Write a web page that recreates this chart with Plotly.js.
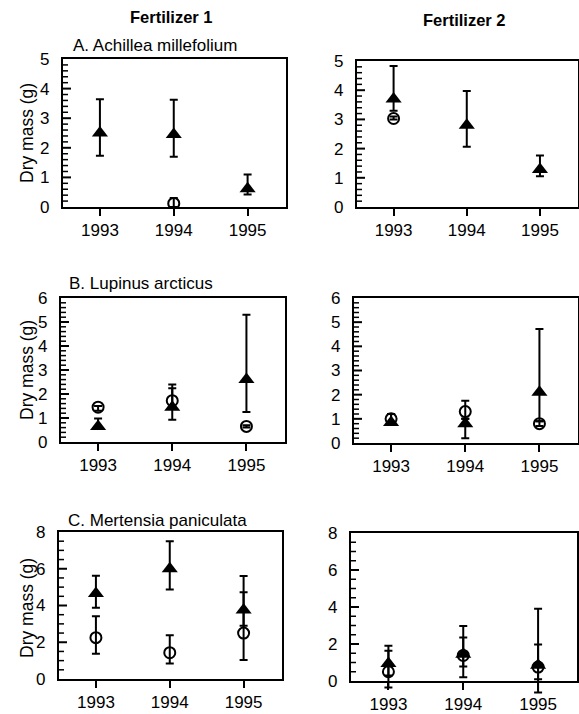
<!DOCTYPE html>
<html>
<head>
<meta charset="utf-8">
<script src="https://cdn.plot.ly/plotly-3.0.1.min.js"></script>
<style>html,body{margin:0;padding:0;background:#fff}#chart{width:579px;height:714px}</style>
</head>
<body>
<div id="chart"></div>
<script>
// ---------- DATA ----------
const years = [1993, 1994, 1995];
const columnTitles = ["Fertilizer 1", "Fertilizer 2"];
const panelTitles = ["A. Achillea millefolium", "B. Lupinus arcticus", "C. Mertensia paniculata"];
const yTitle = "Dry mass (g)";

// Panel A
const aF1Tri = [2.5, 2.45, 0.62], aF1TriHi = [3.64, 3.62, 1.1], aF1TriLo = [1.73, 1.7, 0.42];
const aF1Cir = [null, 0.12, null], aF1CirHi = [null, 0.3, null], aF1CirLo = [null, 0.0, null];
const aF2Tri = [3.7, 2.8, 1.28], aF2TriHi = [4.83, 3.97, 1.76], aF2TriLo = [3.3, 2.06, 1.05];
const aF2Cir = [3.03, null, null], aF2CirHi = [3.1, null, null], aF2CirLo = [3.0, null, null];
// Panel B
const bF1Tri = [0.65, 1.45, 2.6], bF1TriHi = [0.98, 2.24, 5.3], bF1TriLo = [0.6, 0.93, 1.25];
const bF1Cir = [1.45, 1.72, 0.65], bF1CirHi = [1.5, 2.4, 0.7], bF1CirLo = [1.3, 1.4, 0.6];
const bF2Tri = [0.85, 0.8, 2.1], bF2TriHi = [1.2, 1.0, 4.72], bF2TriLo = [0.75, 0.2, 0.9];
const bF2Cir = [1.0, 1.3, 0.8], bF2CirHi = [1.2, 1.75, 0.9], bF2CirLo = [0.8, 1.0, 0.7];
// Panel C
const cF1Tri = [4.65, 6.0, 3.75], cF1TriHi = [5.62, 7.5, 5.6], cF1TriLo = [3.88, 4.87, 2.9];
const cF1Cir = [2.25, 1.43, 2.5], cF1CirHi = [3.42, 2.38, 4.72], cF1CirLo = [1.38, 0.85, 1.03];
const cF2Tri = [0.95, 1.45, 0.85], cF2TriHi = [1.9, 2.97, 3.9], cF2TriLo = [0.3, 0.2, 0.1];
const cF2Cir = [0.5, 1.38, 0.75], cF2CirHi = [1.63, 2.35, 1.97], cF2CirLo = [-0.35, 0.78, -0.62];

const yMax = [5, 6, 8];
const yDtick = [1, 1, 2];
const yMinor = [0.2, 0.2, 0.5];

// ---------- BUILD ----------
const W = 579, H = 714;
const FONT = "Liberation Sans, Arial, sans-serif";
// plot boxes in pixels [x0, x1, y0(top), y1(bottom)]
const boxes = [
  [63, 286, 59, 207], [357, 578, 61, 207],
  [61, 285, 298, 442], [354, 578, 298, 443],
  [59, 282, 532, 679], [351, 577, 533, 681]
];
const sets = [
  [aF1Tri, aF1TriHi, aF1TriLo, aF1Cir, aF1CirHi, aF1CirLo],
  [aF2Tri, aF2TriHi, aF2TriLo, aF2Cir, aF2CirHi, aF2CirLo],
  [bF1Tri, bF1TriHi, bF1TriLo, bF1Cir, bF1CirHi, bF1CirLo],
  [bF2Tri, bF2TriHi, bF2TriLo, bF2Cir, bF2CirHi, bF2CirLo],
  [cF1Tri, cF1TriHi, cF1TriLo, cF1Cir, cF1CirHi, cF1CirLo],
  [cF2Tri, cF2TriHi, cF2TriLo, cF2Cir, cF2CirHi, cF2CirLo]
];

function errs(v, hi, lo) {
  return {
    type: 'data', symmetric: false,
    array: v.map((d, i) => d == null ? null : hi[i] - d),
    arrayminus: v.map((d, i) => d == null ? null : d - lo[i]),
    color: '#000', thickness: 2, width: 4
  };
}

const traces = [];
const layout = {
  width: W, height: H, margin: {l: 0, r: 0, t: 0, b: 0},
  paper_bgcolor: '#fff', plot_bgcolor: 'rgba(0,0,0,0)', showlegend: false,
  font: {family: FONT, color: '#000'},
  annotations: [], shapes: []
};
const XR = [1992.5, 1995.52];
const EXT = 16; // px of extra room below the last panel for error bars hanging under the axis

sets.forEach((s, k) => {
  const n = k + 1;
  const xa = n === 1 ? 'x' : 'x' + n, ya = n === 1 ? 'y' : 'y' + n;
  const b = boxes[k];
  const row = Math.floor(k / 2);
  let dx = xa, dy = ya;
  if (k === 5) {
    // keep the visible frame subplot alive with an empty trace
    traces.push({x: [], y: [], xaxis: xa, yaxis: ya, type: 'scatter', mode: 'markers', hoverinfo: 'skip'});
    // invisible twin subplot, same scale but reaching lower, so bars below 0 are not clipped
    dx = 'x7'; dy = 'y7';
    const pxPerUnit = (b[3] - b[2]) / yMax[row];
    layout.xaxis7 = {domain: [b[0] / W, b[1] / W], anchor: 'y7', range: XR, visible: false};
    layout.yaxis7 = {domain: [1 - (b[3] + EXT) / H, 1 - b[2] / H], anchor: 'x7',
      range: [-EXT / pxPerUnit, yMax[row]], visible: false};
  }
  const [tri, triHi, triLo, cir, cirHi, cirLo] = s;
  traces.push({
    x: years, y: cir, xaxis: dx, yaxis: dy, type: 'scatter', mode: 'markers',
    marker: {symbol: 'circle-open', size: 11, color: '#000', line: {width: 2, color: '#000'}},
    error_y: errs(cir, cirHi, cirLo)
  });
  traces.push({
    x: years, y: tri, xaxis: dx, yaxis: dy, type: 'scatter', mode: 'markers',
    marker: {symbol: 'triangle-up', size: 14, color: '#000'},
    error_y: errs(tri, triHi, triLo)
  });
  layout['xaxis' + (n === 1 ? '' : n)] = {
    domain: [b[0] / W, b[1] / W], anchor: ya, range: XR,
    tickvals: years, ticktext: years.map(String), ticks: 'outside', ticklen: 7, tickwidth: 2, tickcolor: '#000',
    showgrid: false, zeroline: false, showline: true, linewidth: 2, linecolor: '#000', mirror: true,
    tickfont: {size: 17, family: FONT, color: '#000'}
  };
  layout['yaxis' + (n === 1 ? '' : n)] = {
    domain: [1 - b[3] / H, 1 - b[2] / H], anchor: xa, range: [0, yMax[row]],
    tickmode: 'linear', dtick: yDtick[row], tick0: 0, ticks: '',
    ticksuffix: '\u00a0\u2009',
    showgrid: false, zeroline: false, showline: true, linewidth: 2, linecolor: '#000', mirror: true,
    tickfont: {size: 17, family: FONT, color: '#000'}
  };
  // inside tick marks on the left axis: placed on the y scale, fixed pixel length from the axis start
  const nMinor = Math.round(yMax[row] / yMinor[row]);
  const perMajor = Math.round(yDtick[row] / yMinor[row]);
  for (let i = 1; i < nMinor; i++) {
    const major = i % perMajor === 0;
    layout.shapes.push({
      type: 'line', xref: xa, yref: ya, xsizemode: 'pixel', xanchor: XR[0],
      x0: 0, x1: major ? 8 : 5, y0: i * yMinor[row], y1: i * yMinor[row],
      line: {color: '#000', width: major ? 2 : 1.5}, layer: 'above'
    });
  }
});

// column titles
layout.annotations.push(
  {text: '<b>' + columnTitles[0] + '</b>', xref: 'paper', yref: 'paper', x: 171 / W, y: 1 - 17 / H,
   xanchor: 'center', yanchor: 'middle', showarrow: false, font: {size: 16.5, family: FONT, color: '#000'}},
  {text: '<b>' + columnTitles[1] + '</b>', xref: 'paper', yref: 'paper', x: 464 / W, y: 1 - 20 / H,
   xanchor: 'center', yanchor: 'middle', showarrow: false, font: {size: 16.5, family: FONT, color: '#000'}}
);
// panel titles
const ptPos = [[71, 45], [67, 284], [66, 520]];
panelTitles.forEach((t, i) => {
  layout.annotations.push({text: t, xref: 'paper', yref: 'paper', x: ptPos[i][0] / W, y: 1 - ptPos[i][1] / H,
    xanchor: 'left', yanchor: 'middle', showarrow: false, font: {size: 17, family: FONT, color: '#000'}});
});
// y axis titles (left column)
const ytPos = [133, 370, 608];
ytPos.forEach(py => {
  layout.annotations.push({text: yTitle, xref: 'paper', yref: 'paper', x: 27 / W, y: 1 - py / H,
    xanchor: 'center', yanchor: 'middle',
    textangle: -90, showarrow: false, font: {size: 17.5, family: FONT, color: '#000'}});
});

Plotly.newPlot('chart', traces, layout, {staticPlot: true, displayModeBar: false});
</script>
</body>
</html>
